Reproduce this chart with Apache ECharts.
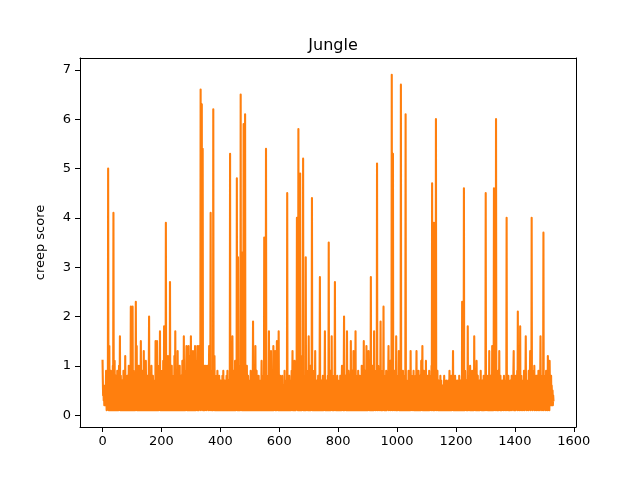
<!DOCTYPE html>
<html>
<head>
<meta charset="utf-8">
<title>Jungle</title>
<script src="https://cdn.jsdelivr.net/npm/echarts@6/dist/echarts.min.js"></script>
<style>
  html, body { margin: 0; padding: 0; background: #fff; }
  #chart { width: 640px; height: 480px; }
</style>
</head>
<body>
<div id="chart"></div>
<script>
// creep score per game, one value per game index
var creepScore = [
  1.1,0.7,0.4,0.6,0.3,0.5,0.2,0.4,0.6,0.3,
  0.2,0.5,0.9,0.3,0.1,0.6,0.4,0.8,0.2,5.0,
  0.6,0.1,0.4,1.4,0.2,0.7,0.1,0.3,0.9,0.2,
  0.5,0.1,0.7,0.4,0.1,1.0,0.3,4.1,0.6,0.1,
  0.4,1.1,0.2,0.5,0.1,0.8,0.3,0.1,0.6,0.2,
  0.9,0.1,0.4,0.7,0.1,0.3,1.0,0.2,0.5,1.6,
  0.1,0.4,0.8,0.2,0.1,0.6,0.3,0.7,0.1,0.5,
  0.2,0.9,0.1,0.4,0.6,0.1,0.3,1.2,0.2,0.1,
  0.7,0.4,0.1,0.5,0.8,0.2,0.1,0.6,0.3,1.0,
  0.1,0.4,0.2,0.7,0.1,0.5,2.2,0.3,0.1,0.8,
  // 100
  0.2,0.6,2.2,0.1,0.4,0.9,0.2,0.1,0.5,0.3,
  0.7,0.1,0.4,2.3,0.2,0.6,1.4,0.1,0.3,0.8,
  0.2,0.1,0.5,1.0,0.3,0.1,0.7,0.4,0.1,0.6,
  1.5,0.2,0.1,0.4,0.9,0.3,0.1,0.6,0.2,0.5,
  1.3,0.1,0.4,0.7,0.2,0.1,0.5,1.1,0.3,0.1,
  0.6,0.2,0.8,0.1,0.4,0.3,0.1,0.9,2.0,0.2,
  0.1,0.5,0.7,0.2,0.1,0.4,1.0,0.3,0.1,0.6,
  0.2,0.8,0.1,0.5,0.3,0.1,0.7,0.4,0.2,0.1,
  1.5,0.3,0.6,0.1,0.4,1.5,0.2,0.1,0.8,0.5,
  0.1,0.3,1.0,0.2,0.6,1.7,0.1,0.4,0.2,0.9,
  // 200
  0.1,0.5,0.3,0.7,0.1,0.2,1.1,0.4,0.1,1.8,
  0.3,0.6,0.1,0.5,0.2,3.9,0.4,0.1,0.8,0.3,
  0.1,0.6,1.2,0.2,0.1,0.5,0.9,0.3,0.1,2.7,
  0.4,0.1,0.7,0.2,0.5,1.0,0.1,0.3,0.6,0.2,
  0.1,0.8,0.4,0.1,1.2,0.3,0.5,1.7,0.1,0.2,
  0.6,0.4,0.1,0.9,0.2,1.3,0.1,0.5,0.3,0.7,
  0.1,0.4,1.0,0.2,0.1,0.6,0.3,0.8,0.1,0.5,
  0.2,1.1,0.1,0.4,0.7,0.2,1.6,0.1,0.3,0.9,
  0.5,0.1,0.6,0.2,1.0,1.4,0.3,0.1,0.7,0.4,
  0.1,0.8,1.4,0.2,0.5,0.1,1.2,0.3,0.6,0.1,
  // 300
  1.6,0.2,0.4,1.0,0.1,0.7,0.3,1.3,0.2,0.1,
  0.9,0.5,0.1,0.4,1.4,0.2,0.6,0.1,1.1,0.3,
  0.2,0.8,1.4,0.1,0.5,1.0,0.3,0.1,1.4,0.6,
  0.2,1.2,0.4,6.6,0.1,0.8,1.0,6.3,0.2,0.4,
  5.4,0.1,0.9,0.3,1.0,0.5,0.1,1.0,0.7,0.2,
  0.4,1.0,0.1,0.6,0.3,0.9,0.2,1.0,0.5,0.1,
  0.3,0.8,1.4,0.2,0.6,0.1,1.0,4.1,0.4,0.2,
  0.7,0.1,0.5,0.9,0.3,0.1,6.2,0.4,0.2,0.6,
  1.2,0.1,0.3,0.7,0.2,0.5,0.1,0.8,0.4,0.1,
  0.9,0.3,0.2,0.6,0.1,0.4,0.8,0.2,0.1,0.5,
  // 400
  0.3,0.7,0.1,0.4,0.2,0.6,0.1,0.8,0.3,0.1,
  0.9,0.2,0.5,0.1,0.4,0.7,0.2,0.1,0.6,0.3,
  0.1,0.8,0.4,0.2,0.9,0.1,0.5,0.3,0.7,0.1,
  0.4,0.2,0.6,5.3,0.1,0.3,0.8,0.2,0.5,0.1,
  0.7,1.6,0.2,0.4,0.1,0.9,0.3,0.6,0.1,0.2,
  1.1,0.4,0.1,0.7,0.3,0.2,4.8,0.5,0.1,0.6,
  3.2,0.2,0.8,0.1,0.4,1.0,0.3,0.1,0.6,6.5,
  0.2,0.5,3.3,0.1,0.4,0.9,0.2,0.7,0.1,5.9,
  0.3,0.6,0.1,0.8,6.1,0.2,0.4,0.1,0.7,0.3,
  1.0,0.1,0.5,0.2,0.8,0.4,0.1,0.6,0.3,0.1,
  // 500
  0.7,0.2,0.5,0.9,0.1,0.4,0.3,0.1,0.8,0.2,
  0.6,1.9,0.1,0.4,0.7,0.2,0.1,0.5,0.3,1.4,
  0.1,0.6,0.2,0.9,0.4,0.1,0.7,0.3,0.5,0.1,
  0.8,0.2,0.4,0.6,0.1,0.3,0.7,0.2,0.1,0.5,
  1.1,0.3,0.1,0.6,0.4,0.2,0.8,0.1,0.5,3.6,
  0.2,0.7,0.1,0.4,0.9,5.4,0.3,0.1,0.6,0.2,
  0.5,0.1,0.8,0.3,0.4,1.7,0.1,0.6,0.2,0.9,
  0.3,0.1,1.3,0.5,0.2,0.7,0.1,0.4,0.6,0.2,
  1.4,0.1,0.5,0.3,0.8,0.2,1.3,0.1,0.6,0.4,
  0.1,0.7,1.5,0.2,0.3,0.9,0.1,0.5,1.7,0.2,
  // 600
  0.4,0.1,0.6,0.8,0.2,0.3,0.1,0.7,0.5,0.1,
  0.8,0.2,0.4,0.1,0.6,0.3,0.5,0.1,0.9,0.2,
  0.3,0.7,0.1,0.4,0.6,0.2,0.1,4.5,0.3,0.5,
  0.1,0.6,0.2,0.4,0.8,0.1,0.7,0.3,0.2,0.5,
  0.1,0.4,0.9,0.2,0.6,1.3,0.1,0.3,0.7,0.2,
  0.5,0.1,1.1,0.4,0.2,0.8,0.1,0.6,0.3,0.9,
  4.0,0.2,0.5,0.1,1.0,5.8,0.3,0.1,0.7,0.4,
  0.2,4.9,0.1,0.6,0.9,0.3,0.1,0.5,1.2,0.2,
  0.4,5.2,0.1,0.7,0.3,0.8,0.2,0.1,0.6,0.4,
  3.2,0.1,0.5,0.9,0.2,0.3,0.7,0.1,0.4,0.6,
  // 700
  1.6,0.2,0.1,0.8,0.4,0.3,1.0,0.1,0.5,0.2,
  0.7,4.4,0.3,0.1,0.6,0.9,0.2,0.4,0.1,0.8,
  0.3,0.5,1.3,0.1,0.2,0.7,0.4,0.1,0.7,0.3,
  0.5,0.1,0.8,0.2,0.6,0.3,0.1,0.9,2.8,0.2,
  0.4,0.1,0.6,0.3,0.7,0.2,0.1,0.5,0.8,0.3,
  0.1,0.6,0.4,0.2,0.9,1.7,0.1,0.3,0.5,0.2,
  0.7,0.1,0.6,0.4,0.2,0.8,0.1,0.5,3.5,0.3,
  0.1,0.6,0.2,0.9,0.4,0.1,0.7,0.3,1.6,0.2,
  0.5,0.1,0.8,0.3,0.6,0.2,0.1,0.4,0.9,2.7,
  0.2,0.5,0.1,0.7,0.3,0.4,0.1,0.8,0.2,0.6,
  // 800
  0.7,0.1,0.4,0.3,0.6,0.2,0.1,0.8,0.5,0.2,
  0.4,0.1,0.7,1.0,0.3,0.2,0.6,0.1,0.5,0.9,
  2.0,0.1,0.4,0.6,0.2,0.8,0.3,0.1,0.7,0.5,
  1.7,0.2,0.1,0.6,0.4,0.9,0.7,0.1,0.3,0.5,
  0.2,0.8,0.1,1.5,0.4,0.3,0.6,0.1,0.9,0.2,
  0.5,0.1,1.3,0.4,0.2,0.7,0.1,0.6,0.3,1.7,
  0.1,0.4,0.8,0.2,0.5,0.1,0.7,0.3,0.9,0.1,
  0.6,0.2,0.4,0.8,0.1,0.5,0.3,0.7,0.2,0.1,
  1.0,0.4,0.6,0.1,0.3,0.8,0.2,1.5,0.1,0.5,
  0.3,0.9,0.2,0.1,0.6,0.4,1.4,0.1,0.7,0.2,
  // 900
  0.5,0.1,0.8,1.3,0.3,0.2,0.6,0.1,0.9,0.4,
  0.2,2.8,0.1,0.5,0.7,0.3,0.1,1.0,0.4,0.2,
  0.6,0.1,1.7,0.3,0.8,0.2,0.5,0.1,0.9,0.4,
  0.2,0.6,5.1,0.1,0.7,0.3,1.0,0.2,0.5,0.1,
  0.8,0.4,0.2,0.6,1.9,0.1,0.3,0.9,0.5,0.2,
  0.1,0.7,0.4,0.6,2.2,0.2,0.1,0.8,0.3,0.5,
  0.1,0.6,0.2,0.9,0.4,0.1,0.7,0.3,0.5,0.2,
  0.8,1.4,0.1,0.4,0.6,0.2,0.3,1.1,0.1,0.5,
  0.7,0.2,6.9,0.4,0.1,0.6,5.3,0.3,0.2,0.8,
  0.1,0.5,0.9,0.3,0.2,0.6,0.1,1.6,0.4,0.2,
  // 1000
  0.7,0.1,0.5,0.8,0.3,0.2,1.3,0.1,0.6,0.4,
  0.2,0.9,0.1,6.7,0.3,0.5,0.7,0.1,0.4,0.2,
  0.9,0.3,0.1,0.6,0.4,0.8,0.2,0.1,0.5,6.1,
  0.3,0.1,0.7,0.4,0.2,0.6,0.1,0.5,0.3,0.9,
  0.1,0.4,0.7,0.2,0.6,0.1,1.3,0.3,0.5,0.2,
  0.8,0.1,0.4,0.6,0.2,0.3,0.9,0.1,0.5,0.7,
  0.2,0.4,0.1,0.8,0.3,0.6,1.3,0.1,0.2,0.5,
  0.7,0.3,0.1,0.9,0.4,0.2,0.6,0.1,0.8,0.3,
  0.5,0.1,1.1,0.4,0.2,0.7,1.4,0.1,0.3,0.6,
  0.2,0.9,0.1,0.5,0.4,0.7,0.2,0.1,1.1,0.3,
  // 1100
  0.6,0.1,0.4,0.8,0.2,0.5,0.1,0.7,0.3,0.9,
  0.1,0.4,0.6,0.2,0.8,0.3,0.1,1.0,0.5,4.7,
  0.2,0.6,0.1,0.9,0.4,3.9,0.3,0.1,0.7,0.5,
  0.2,0.8,6.0,0.1,0.4,0.6,0.2,0.9,0.3,0.1,
  0.5,0.7,0.2,0.4,0.1,0.6,0.3,0.8,0.1,0.4,
  0.7,0.2,0.5,0.1,0.3,0.6,0.4,0.1,0.2,0.5,
  0.8,0.1,0.3,0.6,0.2,0.4,0.1,0.7,0.3,0.5,
  0.1,0.6,0.2,0.4,0.7,0.1,0.3,0.5,0.9,0.2,
  0.1,0.6,0.4,0.3,0.8,0.1,0.5,0.2,0.7,0.4,
  1.3,0.1,0.3,0.6,0.2,0.5,0.1,0.8,0.4,0.2,
  // 1200
  0.6,0.1,0.3,0.5,0.7,0.2,0.1,0.4,0.6,0.3,
  0.1,0.8,0.2,0.5,0.4,0.1,0.7,0.3,0.6,0.2,
  0.1,2.3,0.5,0.3,0.8,0.1,0.4,4.6,0.2,0.6,
  0.1,0.9,0.3,0.5,0.2,0.7,0.1,0.4,0.6,0.2,
  1.8,0.1,0.5,0.3,0.8,0.2,0.6,0.1,1.0,0.4,
  0.2,0.7,0.1,0.5,0.3,0.9,0.2,0.1,0.6,0.4,
  0.8,0.1,1.6,0.3,0.2,0.5,0.7,0.1,0.4,0.6,
  1.1,0.2,0.1,0.5,0.8,0.3,0.1,0.6,0.4,0.2,
  0.7,0.1,0.5,0.3,0.9,0.2,0.6,0.1,0.4,0.3,
  0.7,0.2,0.1,0.5,0.8,0.3,0.1,0.6,0.2,0.4,
  // 1300
  0.9,4.5,0.1,0.3,0.6,0.2,0.8,0.4,0.1,0.5,
  0.3,0.7,0.1,1.3,0.2,0.5,0.4,0.1,0.8,0.3,
  0.6,0.2,0.1,1.4,0.5,0.3,0.7,0.1,0.9,4.6,
  0.2,0.4,0.8,0.1,0.6,0.3,6.0,0.2,0.5,0.1,
  0.7,0.4,0.2,0.9,0.1,0.6,0.3,1.3,0.2,0.5,
  0.1,0.8,0.4,0.2,0.6,0.1,0.3,0.7,0.5,0.2,
  0.4,0.1,0.6,0.8,0.3,0.2,0.5,0.1,0.7,0.4,
  0.2,0.9,4.0,0.1,0.5,0.3,0.6,0.2,0.8,0.1,
  0.4,0.6,0.2,0.5,0.1,0.7,0.3,0.4,0.2,0.8,
  0.1,0.5,0.6,0.3,0.2,0.9,1.3,0.1,0.4,0.7,
  // 1400
  0.2,0.5,0.1,0.8,0.3,0.6,0.4,0.2,0.9,0.1,
  2.1,0.3,0.5,0.2,0.7,0.1,0.4,0.6,1.8,0.2,
  0.5,0.1,0.8,0.3,0.6,0.2,0.4,0.1,0.7,0.5,
  0.2,0.9,0.3,0.1,0.6,0.4,0.8,1.6,0.2,0.5,
  0.1,0.7,0.3,0.4,0.2,0.6,0.1,0.9,0.5,0.3,
  0.2,0.8,1.3,0.1,0.4,0.6,0.2,4.0,0.3,0.5,
  0.1,0.7,0.4,0.2,0.9,0.3,1.0,0.1,0.6,0.5,
  0.2,0.4,0.8,0.1,0.3,0.8,0.6,0.2,0.5,0.1,
  0.9,0.3,0.4,0.7,0.2,0.1,0.6,1.6,0.4,0.2,
  0.5,0.8,0.1,0.3,0.6,0.2,0.9,3.7,0.1,0.4,
  // 1500
  0.7,0.2,0.5,0.3,0.8,0.1,0.9,0.4,0.2,0.6,
  0.3,0.1,1.2,0.5,0.2,0.7,0.4,0.1,1.1,0.6,
  0.2,0.5,0.3,0.8,0.2,0.6,0.4,0.3,0.5,0.2,
  0.4,0.3
];

var xTicks = [0, 200, 400, 600, 800, 1000, 1200, 1400, 1600];
var yTicks = [0, 1, 2, 3, 4, 5, 6, 7];

var chart = echarts.init(document.getElementById('chart'), null, { renderer: 'canvas' });

var lineData = creepScore.map(function (v, i) { return [i, v]; });

var frameLine = { show: true, onZero: false, lineStyle: { color: '#000', width: 1 } };
var noTick = { show: false };

var option = {
    animation: false,
    backgroundColor: '#ffffff',
    textStyle: { fontFamily: 'DejaVu Sans' },
    title: {
        text: 'Jungle',
        left: 328,
        top: 33,
        textAlign: 'center',
        textStyle: { fontSize: 16, fontWeight: 'normal', color: '#000', fontFamily: 'DejaVu Sans' }
    },
    grid: {
        left: 80,
        right: 64,
        top: 58,
        bottom: 53
    },
    xAxis: [{
        type: 'value',
        position: 'bottom',
        min: -76.55,
        max: 1607.55,
        axisLine: frameLine,
        axisTick: { show: true, inside: false, length: 5, lineStyle: { color: '#000', width: 1 }, customValues: xTicks },
        axisLabel: {
            color: '#000', fontSize: 13, margin: 8, customValues: xTicks, fontFamily: 'DejaVu Sans',
            formatter: function (v) { return String(v); }
        },
        splitLine: { show: false }
    }, {
        type: 'value',
        position: 'top',
        min: -76.55,
        max: 1607.55,
        axisLine: frameLine,
        axisTick: noTick,
        axisLabel: { show: false },
        splitLine: { show: false }
    }],
    yAxis: [{
        type: 'value',
        position: 'left',
        name: 'creep score',
        nameLocation: 'middle',
        nameGap: 33,
        nameRotate: 90,
        nameTextStyle: { color: '#000', fontSize: 13, fontFamily: 'DejaVu Sans' },
        min: -0.24,
        max: 7.24,
        axisLine: frameLine,
        axisTick: { show: true, inside: false, length: 5, lineStyle: { color: '#000', width: 1 }, customValues: yTicks },
        axisLabel: { color: '#000', fontSize: 13, margin: 9, customValues: yTicks, fontFamily: 'DejaVu Sans' },
        splitLine: { show: false }
    }, {
        type: 'value',
        position: 'right',
        min: -0.24,
        max: 7.24,
        axisLine: frameLine,
        axisTick: noTick,
        axisLabel: { show: false },
        splitLine: { show: false }
    }],
    series: [{
        type: 'line',
        data: lineData,
        showSymbol: false,
        symbol: 'none',
        sampling: 'none',
        lineStyle: { color: '#ff7f0e', width: 2.1, join: 'round', cap: 'square' },
        itemStyle: { color: '#ff7f0e' },
        emphasis: { disabled: true },
        progressive: 0
    }]
};

chart.setOption(option);
</script>
</body>
</html>
